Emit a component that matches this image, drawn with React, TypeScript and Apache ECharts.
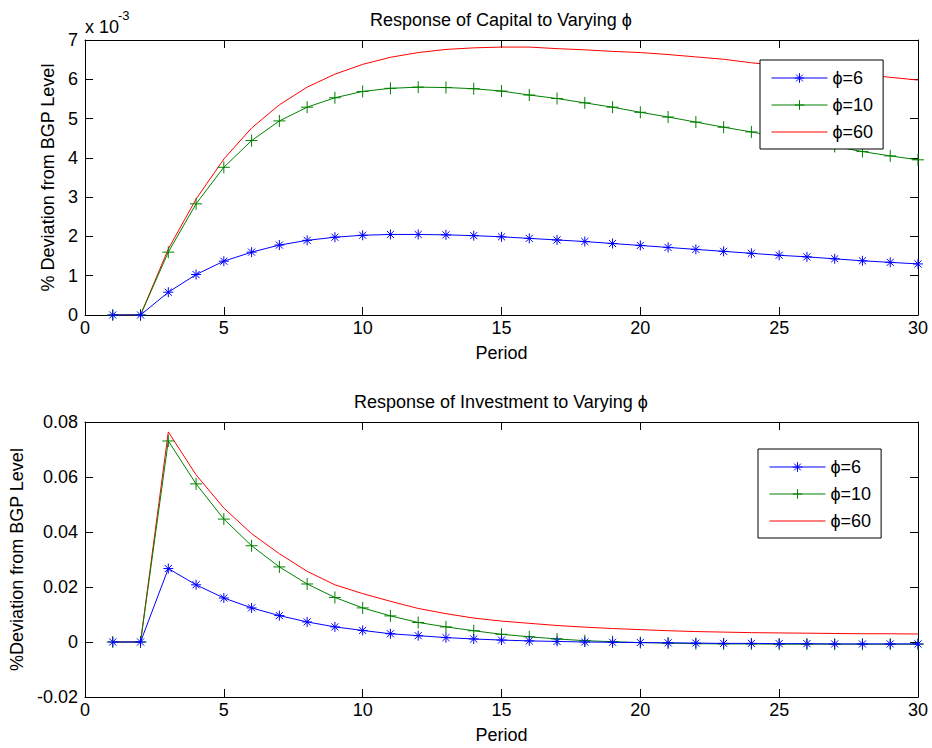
import React, { useEffect, useRef } from "react";
import * as echarts from "echarts";

const periods = [1,2,3,4,5,6,7,8,9,10,11,12,13,14,15,16,17,18,19,20,21,22,23,24,25,26,27,28,29,30];

// Capital response, in units of 10^-3
const capitalPhi6 = [0,0,0.58,1.03,1.37,1.6,1.78,1.9,1.98,2.03,2.05,2.05,2.04,2.02,1.99,1.95,1.91,1.87,1.82,1.77,1.72,1.67,1.62,1.57,1.52,1.48,1.43,1.38,1.34,1.3];
const capitalPhi10 = [0,0,1.6,2.83,3.76,4.44,4.94,5.29,5.53,5.69,5.77,5.8,5.79,5.76,5.7,5.6,5.51,5.4,5.29,5.16,5.04,4.91,4.78,4.66,4.53,4.41,4.29,4.16,4.05,3.95];
const capitalPhi60 = [0,0,1.68,2.95,3.97,4.76,5.35,5.8,6.13,6.38,6.56,6.68,6.76,6.8,6.82,6.82,6.78,6.75,6.71,6.68,6.63,6.57,6.51,6.42,6.35,6.28,6.2,6.13,6.05,5.98];

const investPhi6 = [0,0,0.0267,0.0208,0.016,0.0124,0.0096,0.0073,0.0055,0.0042,0.003,0.0023,0.0016,0.0011,0.0007,0.0004,0.0002,0,-0.0001,-0.0002,-0.0003,-0.0004,-0.0005,-0.0005,-0.0006,-0.0006,-0.0007,-0.0007,-0.0007,-0.0007];
const investPhi10 = [0,0,0.0731,0.0575,0.0447,0.035,0.0273,0.0211,0.0162,0.0124,0.0095,0.0071,0.0055,0.0041,0.0028,0.0019,0.0011,0.0005,0.0001,-0.0002,-0.0004,-0.0006,-0.0007,-0.0007,-0.0008,-0.0008,-0.0008,-0.0008,-0.0008,-0.0008];
const investPhi60 = [0,0,0.0764,0.0608,0.0487,0.0394,0.0321,0.0257,0.0208,0.0176,0.0148,0.0122,0.0103,0.0087,0.0076,0.0068,0.006,0.0054,0.0049,0.0045,0.0041,0.0038,0.0036,0.0034,0.0033,0.0032,0.0031,0.003,0.003,0.0029];

const seriesNames = ["\u03D5=6", "\u03D5=10", "\u03D5=60"];
const seriesColors = ["#0000ff", "#008000", "#ff0000"];

const xTicks = { min: 0, max: 30, interval: 5 };
const capitalTicks = { min: 0, max: 7, interval: 1 };
const investTicks = { min: -0.02, max: 0.08, interval: 0.02 };

const FONT = "'Liberation Sans', Arial, Helvetica, sans-serif";
const ASTERISK = "path://M0,-10L0,10M-10,0L10,0M-7.07,-7.07L7.07,7.07M-7.07,7.07L7.07,-7.07";
const PLUS = "path://M0,-10L0,10M-10,0L10,0";
const symbols = [ASTERISK, PLUS, "none"];
const symbolSizes = [10, 12, 0];

export default function App() {
  const ref = useRef<HTMLDivElement>(null);
  useEffect(() => {
    if (!ref.current) return;
    const chart = echarts.init(ref.current, null, { renderer: "svg" });

    const grids = [
      { left: 85, top: 40, width: 833, height: 275 },
      { left: 85, top: 422, width: 833, height: 275 },
    ];

    const tickStyle = { show: true, inside: true, length: 8, lineStyle: { color: "#000", width: 1 } };
    const lineStyle = { show: true, onZero: false, lineStyle: { color: "#000", width: 1 } };
    const labelStyle = { color: "#000", fontSize: 18, fontFamily: FONT };

    const xAxes: any[] = [];
    const yAxes: any[] = [];
    [0, 1].forEach((g) => {
      xAxes.push({
        type: "value", gridIndex: g, position: "bottom", ...xTicks,
        axisLine: lineStyle, axisTick: tickStyle, splitLine: { show: false },
        axisLabel: { ...labelStyle, margin: 4 },
        name: "Period", nameLocation: "middle", nameGap: 29,
        nameTextStyle: { color: "#000", fontSize: 18, fontFamily: FONT },
      });
      xAxes.push({
        type: "value", gridIndex: g, position: "top", ...xTicks,
        axisLine: lineStyle, axisTick: tickStyle, splitLine: { show: false },
        axisLabel: { show: false },
      });
    });
    const yTicks = [capitalTicks, investTicks];
    const yNames = ["% Deviation from BGP Level", "%Deviation from BGP Level"];
    const yGaps = [28, 58];
    [0, 1].forEach((g) => {
      yAxes.push({
        type: "value", gridIndex: g, position: "left", ...yTicks[g],
        axisLine: lineStyle, axisTick: tickStyle, splitLine: { show: false },
        axisLabel: {
          ...labelStyle, margin: 7,
          formatter: (v: number) => (g === 0 ? String(Math.round(v)) : Math.abs(v) < 1e-9 ? "0" : v.toFixed(2)),
        },
        name: yNames[g], nameLocation: "middle", nameGap: yGaps[g],
        nameTextStyle: { color: "#000", fontSize: 18, fontFamily: FONT },
      });
      yAxes.push({
        type: "value", gridIndex: g, position: "right", ...yTicks[g],
        axisLine: lineStyle, axisTick: tickStyle, splitLine: { show: false },
        axisLabel: { show: false },
      });
    });

    const dataSets = [
      [capitalPhi6, capitalPhi10, capitalPhi60],
      [investPhi6, investPhi10, investPhi60],
    ];
    const series: any[] = [];
    [0, 1].forEach((g) => {
      dataSets[g].forEach((vals, i) => {
        series.push({
          type: "line",
          name: seriesNames[i],
          xAxisIndex: g * 2,
          yAxisIndex: g * 2,
          data: periods.map((p, k) => [p, vals[k]]),
          color: seriesColors[i],
          symbol: symbols[i],
          symbolSize: symbolSizes[i],
          showSymbol: i < 2,
          lineStyle: { color: seriesColors[i], width: 1 },
          itemStyle: { color: seriesColors[i], borderColor: seriesColors[i], borderWidth: 1 },
          emphasis: { disabled: true },
          z: 3 - i,
        });
      });
    });

    const legendBase = {
      orient: "vertical",
      data: [
        { name: seriesNames[0] },
        { name: seriesNames[1] },
        { name: seriesNames[2], itemStyle: { opacity: 0 } },
      ],
      itemWidth: 56,
      itemHeight: 12,
      itemGap: 9,
      backgroundColor: "#fff",
      borderColor: "#000",
      borderWidth: 1,
      padding: [9, 10, 8, 11],
      selectedMode: false,
      lineStyle: { width: 1 },
      itemStyle: { borderWidth: 1 },
      textStyle: { color: "#000", fontSize: 18, fontFamily: FONT },
    };

    chart.setOption({
      animation: false,
      backgroundColor: "#fff",
      grid: grids,
      xAxis: xAxes,
      yAxis: yAxes,
      series,
      legend: [
        { ...legendBase, left: 760, top: 60 },
        { ...legendBase, left: 758, top: 449 },
      ],
      graphic: [
        { type: "text", style: { text: "Response of Capital to Varying \u03D5", x: 501, y: 20, textAlign: "center", textVerticalAlign: "middle", fontSize: 18, fontFamily: FONT, fill: "#000" } },
        { type: "text", style: { text: "Response of Investment to Varying \u03D5", x: 501, y: 402, textAlign: "center", textVerticalAlign: "middle", fontSize: 18, fontFamily: FONT, fill: "#000" } },
        { type: "text", style: { text: "x 10", x: 85, y: 27, textAlign: "left", textVerticalAlign: "middle", fontSize: 18, fontFamily: FONT, fill: "#000" } },
        { type: "text", style: { text: "-3", x: 118, y: 15, textAlign: "left", textVerticalAlign: "middle", fontSize: 13, fontFamily: FONT, fill: "#000" } },
      ],
    });
    return () => chart.dispose();
  }, []);
  return <div ref={ref} style={{ position: "absolute", left: 0, top: 0, width: 932, height: 748 }} />;
}
